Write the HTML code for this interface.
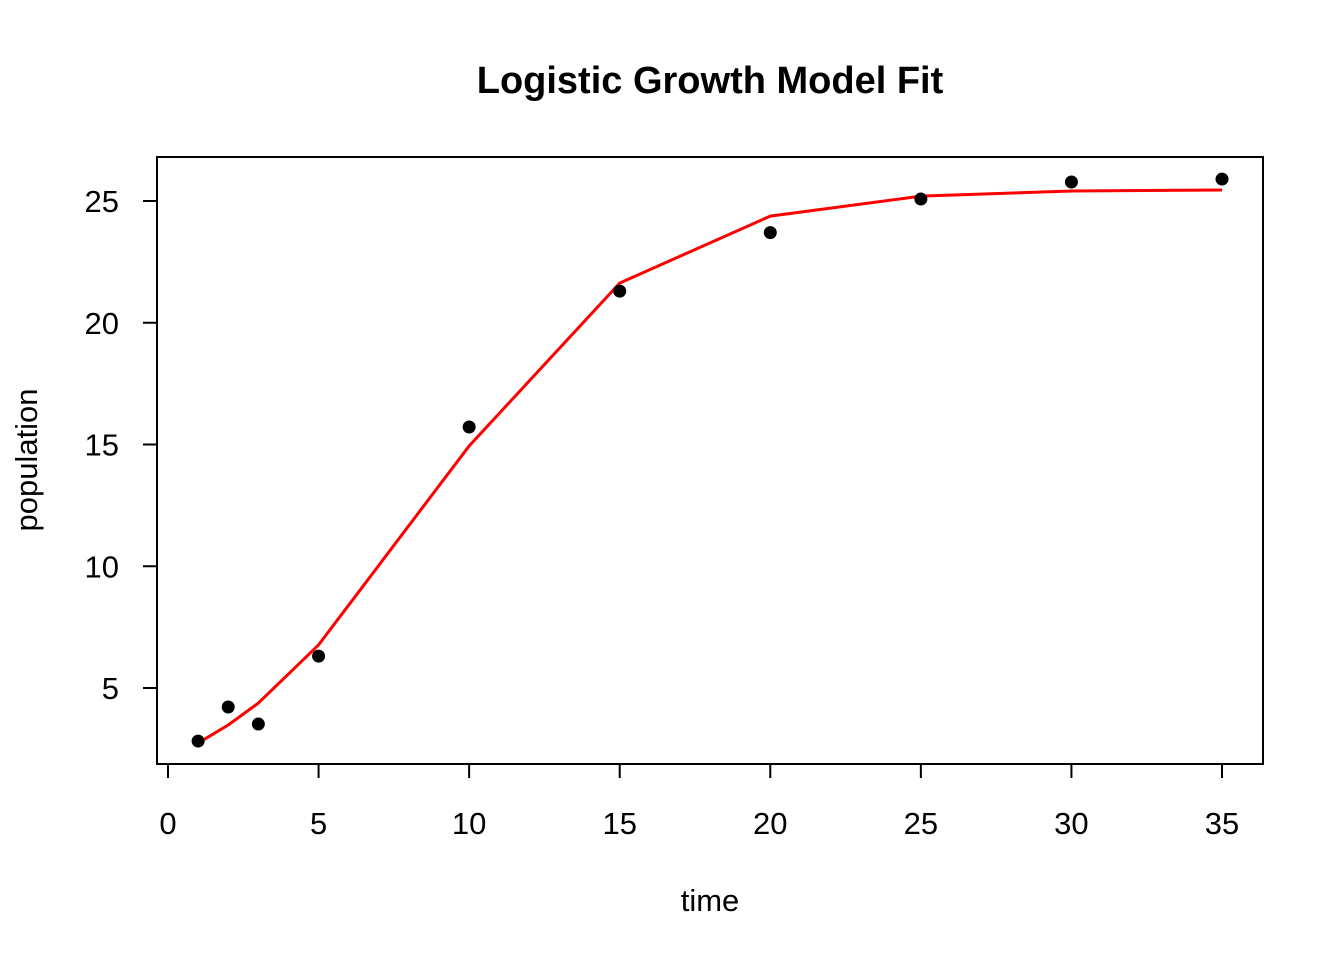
<!DOCTYPE html>
<html><head><meta charset="utf-8"><style>body{margin:0;background:#fff}svg{display:block;font-family:"Liberation Sans",Arial,sans-serif}</style></head>
<body>
<svg id="chart" width="1344" height="960">
<text x="710" y="93" text-anchor="middle" font-size="38" font-weight="bold">Logistic Growth Model Fit</text>
<rect x="157" y="157" width="1106" height="607" fill="none" stroke="#000" stroke-width="2"/>
<text x="710" y="911" text-anchor="middle" font-size="31">time</text>
<text transform="translate(37,460) rotate(-90)" text-anchor="middle" font-size="31">population</text>
<g id="axes"></g><g id="marks"></g>
</svg>
<script>
const times=[1,2,3,5,10,15,20,25,30,35];
const observed=[2.82,4.22,3.52,6.31,15.72,21.3,23.7,25.08,25.78,25.9];
const fitted=[2.74,3.48,4.38,6.77,14.94,21.63,24.38,25.2,25.41,25.45];
const xTicks=[0,5,10,15,20,25,30,35];
const yTicks=[5,10,15,20,25];
const NS='http://www.w3.org/2000/svg';
const X=v=>168+v*(1222-168)/35;
const Y=v=>809.75-v*24.35;
function mk(t,a,p){const e=document.createElementNS(NS,t);for(const k in a)e.setAttribute(k,a[k]);p.appendChild(e);return e;}
const ax=document.getElementById('axes'),mg=document.getElementById('marks');
const xa=mk('line',{x1:X(0),x2:X(35),y1:764,y2:764,stroke:'#000','stroke-width':2},ax);


xTicks.forEach(t=>{
 const l=mk('line',{x1:X(t),x2:X(t),y1:764,y2:778,stroke:'#000','stroke-width':2},ax);
 
 
 const s=mk('text',{x:X(t),y:834,'text-anchor':'middle','font-size':31},ax);s.textContent=t;
 
 
});
const ya=mk('line',{x1:157,x2:157,y1:Y(5),y2:Y(25),stroke:'#000','stroke-width':2},ax);


yTicks.forEach(t=>{
 const l=mk('line',{x1:143,x2:157,y1:Y(t),y2:Y(t),stroke:'#000','stroke-width':2},ax);
 
 
 const s=mk('text',{x:119,y:Y(t)+11,'text-anchor':'end','font-size':31},ax);s.textContent=t;
 
 
});
const pl=mk('polyline',{points:times.map((t,i)=>X(t)+','+Y(fitted[i])).join(' '),fill:'none',stroke:'#f00','stroke-width':3},mg);


times.forEach((t,i)=>{
 const c=mk('circle',{cx:X(t),cy:Y(observed[i]),r:6.5,fill:'#000'},mg);
 
 
});
</script>
</body></html>
